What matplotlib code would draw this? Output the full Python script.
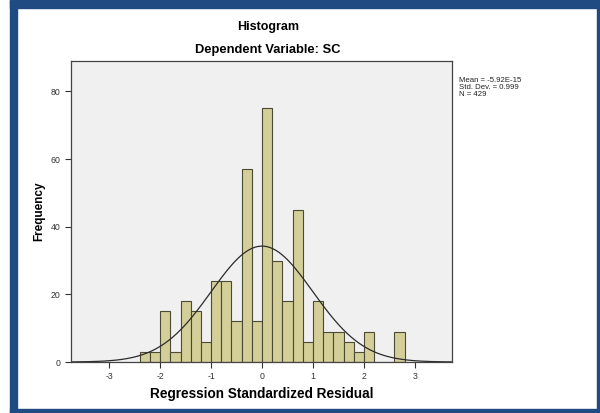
import numpy as np
import matplotlib.pyplot as plt
from matplotlib.patches import Rectangle

plt.rcParams["font.family"] = ["Liberation Sans", "DejaVu Sans"]
plt.rcParams["axes.unicode_minus"] = False

# histogram data (bin width 0.2)
bin_left = np.round(np.arange(-2.4, 2.8, 0.2), 2)
counts = [3, 3, 15, 3, 18, 15, 6, 24, 24, 12, 57, 12, 75,
          30, 18, 45, 6, 18, 9, 9, 6, 3, 9, 0, 0, 9]
mean = -5.92e-15
std = 0.999
n = 429
bin_width = 0.2

fig = plt.figure(figsize=(6, 4.13), dpi=100)
fig.patch.set_facecolor("white")

# blue frame around the chart
frame_col = "#1f4a82"
fig.patches.append(Rectangle((10/600, 0), 7/600, 1, transform=fig.transFigure, color=frame_col, zorder=0))
fig.patches.append(Rectangle((10/600, 1 - 8/413), 590/600, 8/413, transform=fig.transFigure, color=frame_col, zorder=0))
fig.patches.append(Rectangle((597/600, 0), 3/600, 1, transform=fig.transFigure, color=frame_col, zorder=0))
fig.patches.append(Rectangle((10/600, 0), 590/600, 4/413, transform=fig.transFigure, color=frame_col, zorder=0))

ax = fig.add_axes([71/600, 1 - 362/413, 381/600, 301/413])
ax.set_facecolor("#f0f0f0")

ax.bar(bin_left, counts, width=bin_width, align="edge",
       color="#d4cf98", edgecolor="#4a4a35", linewidth=0.8)

# normal curve
xs = np.linspace(-3.75, 3.75, 400)
ys = n * bin_width * np.exp(-0.5 * ((xs - mean) / std) ** 2) / (std * np.sqrt(2 * np.pi))
ax.plot(xs, ys, color="#2b2b2b", lw=0.9)

ax.set_xlim(-3.75, 3.73)
ax.set_ylim(0, 89)
ax.set_xticks([-3, -2, -1, 0, 1, 2, 3])
ax.set_yticks([0, 20, 40, 60, 80])
ax.tick_params(labelsize=6.3, length=4, width=0.8, color="#333333", labelcolor="#333333")
for s in ax.spines.values():
    s.set_color("#444444")
    s.set_linewidth(0.9)

ax.set_xlabel("Regression Standardized Residual", fontsize=9.8, fontweight="bold", labelpad=4)
ax.set_ylabel("Frequency", fontsize=8.5, fontweight="bold", labelpad=4)

fig.text(268/600, 1 - 27/413, "Histogram", ha="center", va="center", fontsize=9, fontweight="bold")
fig.text(268/600, 1 - 50/413, "Dependent Variable: SC", ha="center", va="center", fontsize=9.3, fontweight="bold")

fig.text(459/600, 1 - 77/413,
         "Mean = -5.92E-15\nStd. Dev. = 0.999\nN = 429",
         ha="left", va="top", fontsize=5.6, linespacing=0.95, color="#222222")

fig.savefig("out.png", dpi=100)
